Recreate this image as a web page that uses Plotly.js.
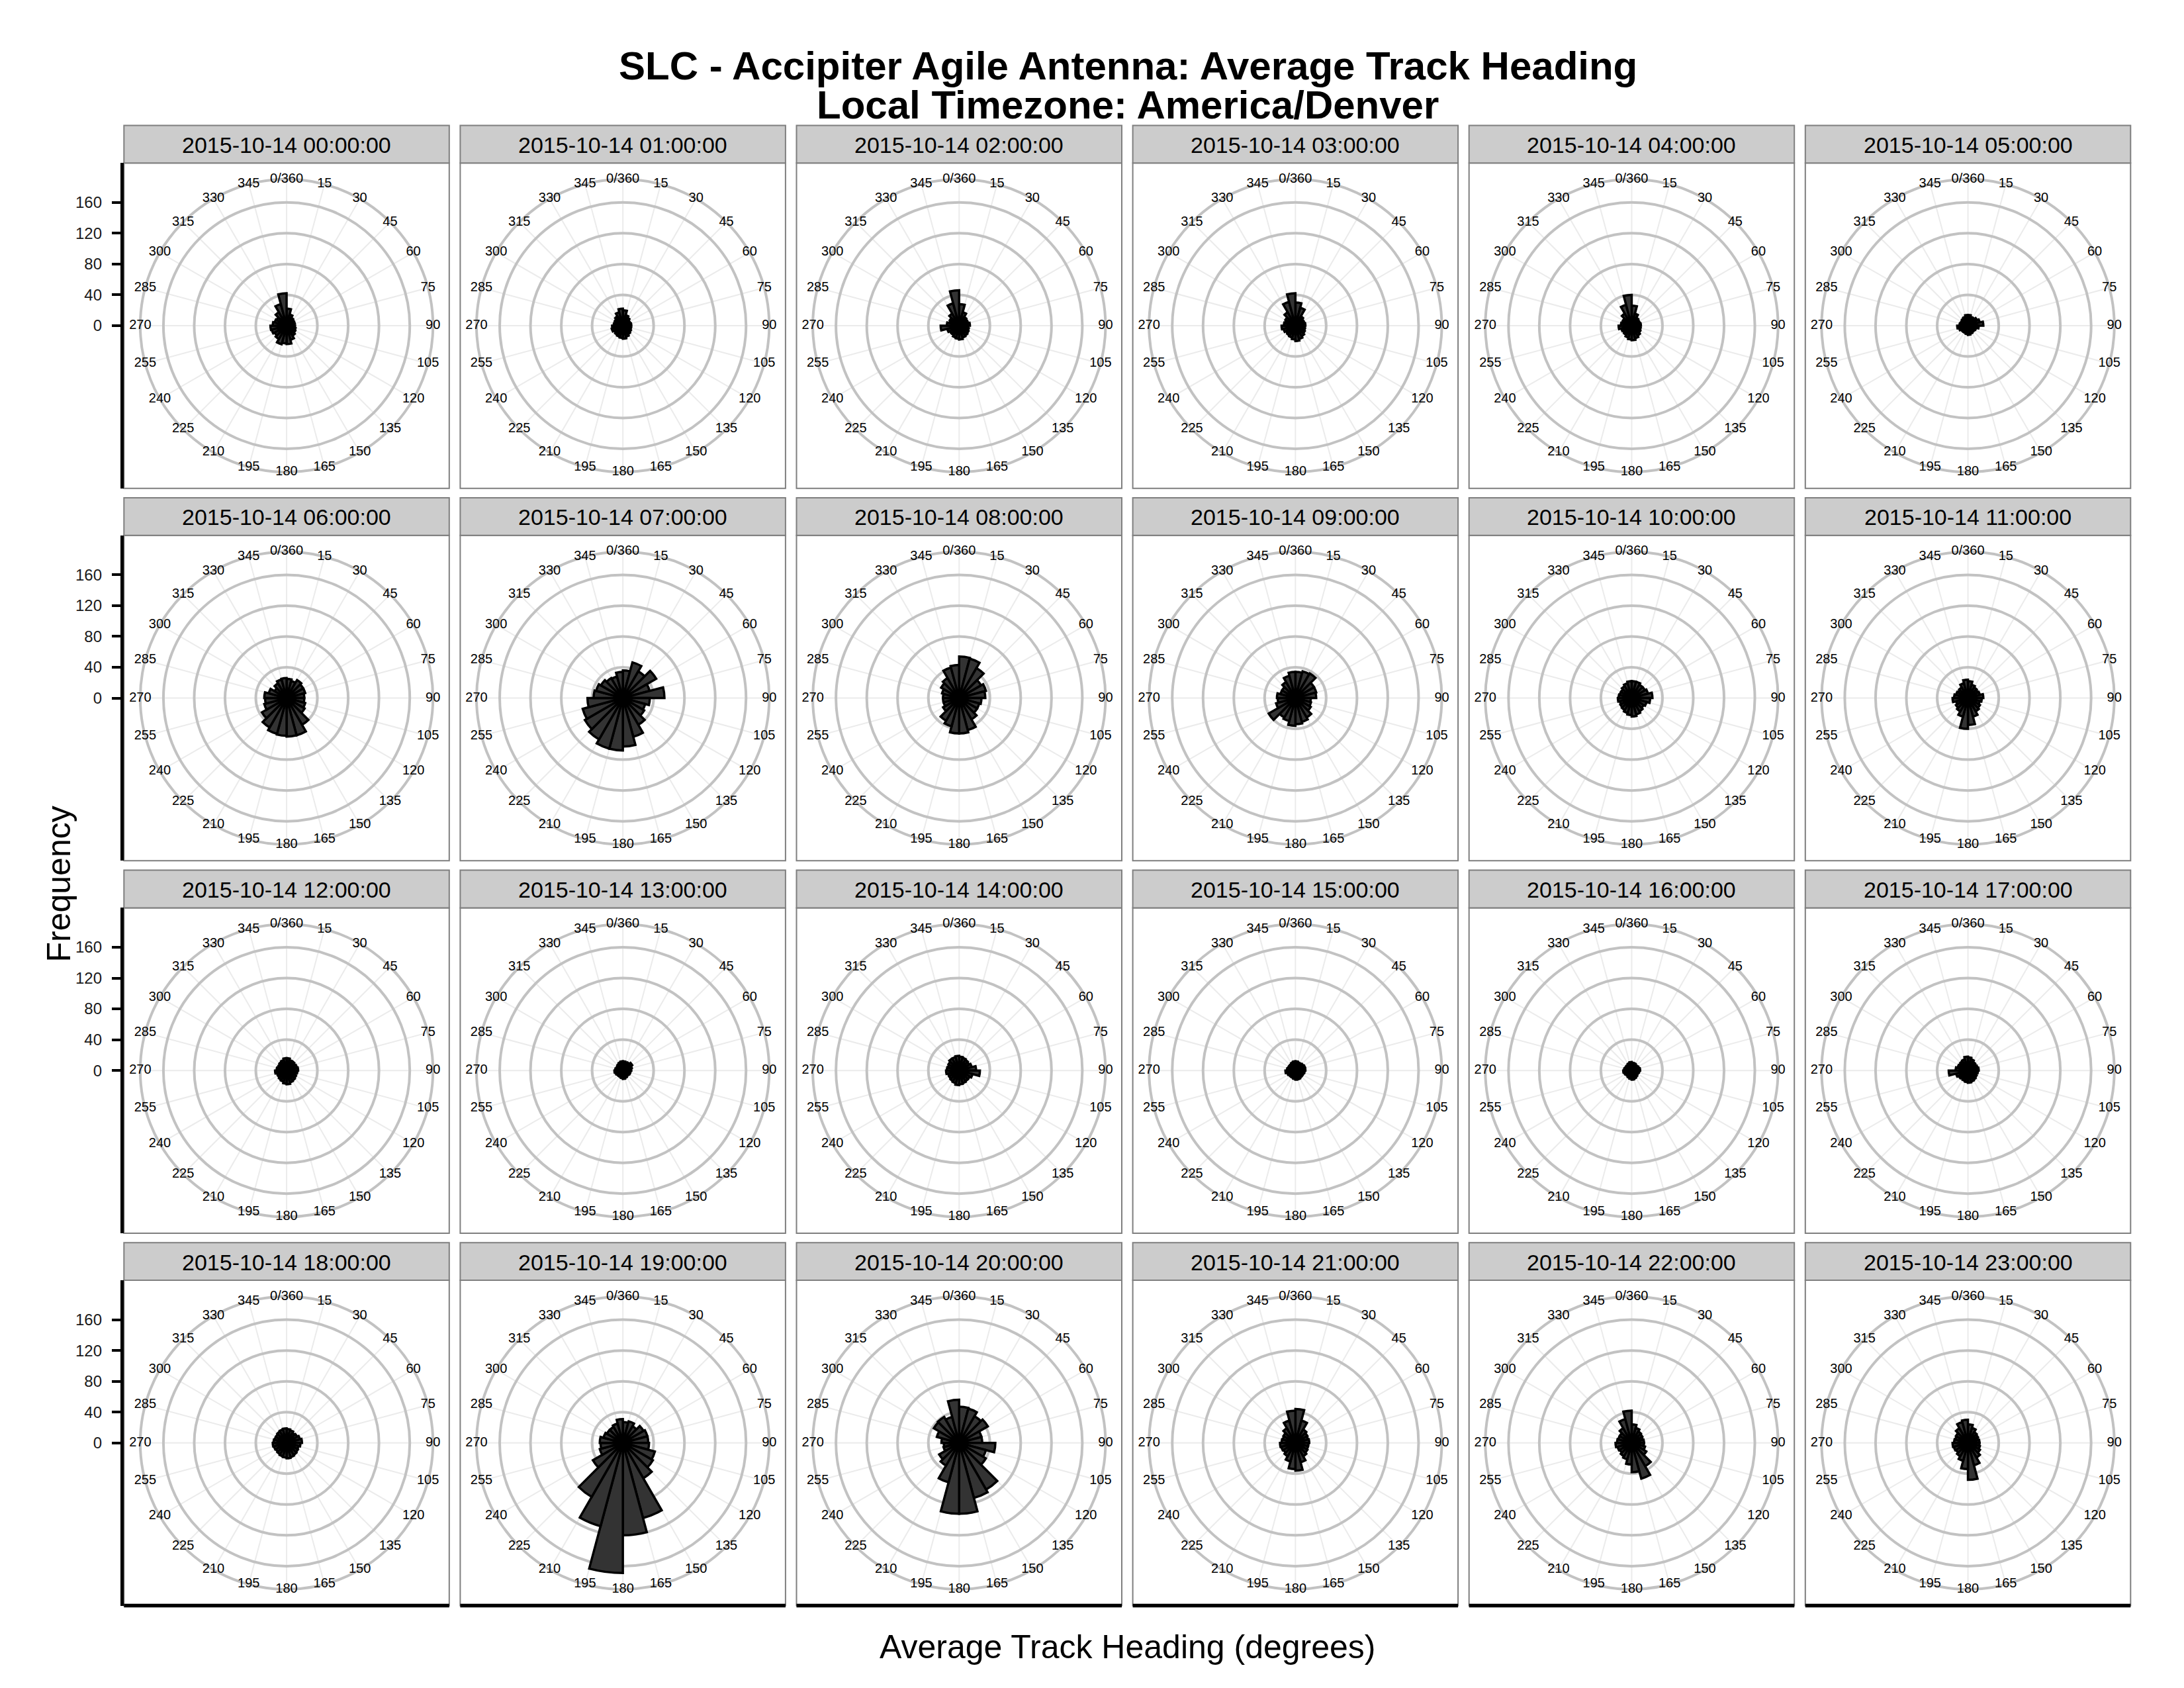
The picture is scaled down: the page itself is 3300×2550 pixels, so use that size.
<!DOCTYPE html>
<html><head><meta charset="utf-8">
<script src="https://cdn.plot.ly/plotly-3.0.1.min.js"></script>
<style>html,body{margin:0;padding:0;background:#fff}</style>
</head><body>
<div id="chart" style="width:3300px;height:2550px"></div>
<script>
// ---------------- data ----------------
const binCenters = [7.5, 22.5, 37.5, 52.5, 67.5, 82.5, 97.5, 112.5, 127.5, 142.5, 157.5, 172.5,
                    187.5, 202.5, 217.5, 232.5, 247.5, 262.5, 277.5, 292.5, 307.5, 322.5, 337.5, 352.5];
const binWidth = 15;
const thetaTicks = [0, 15, 30, 45, 60, 75, 90, 105, 120, 135, 150, 165, 180, 195, 210, 225, 240, 255, 270, 285, 300, 315, 330, 345];
const thetaLabels = ['0/360', '15', '30', '45', '60', '75', '90', '105', '120', '135', '150', '165', '180', '195', '210', '225', '240', '255', '270', '285', '300', '315', '330', '345'];
const freqTicks = [0, 40, 80, 120, 160];
const freqMax = 169;
const hourLabels = ['2015-10-14 00:00:00', '2015-10-14 01:00:00', '2015-10-14 02:00:00', '2015-10-14 03:00:00',
  '2015-10-14 04:00:00', '2015-10-14 05:00:00', '2015-10-14 06:00:00', '2015-10-14 07:00:00',
  '2015-10-14 08:00:00', '2015-10-14 09:00:00', '2015-10-14 10:00:00', '2015-10-14 11:00:00',
  '2015-10-14 12:00:00', '2015-10-14 13:00:00', '2015-10-14 14:00:00', '2015-10-14 15:00:00',
  '2015-10-14 16:00:00', '2015-10-14 17:00:00', '2015-10-14 18:00:00', '2015-10-14 19:00:00',
  '2015-10-14 20:00:00', '2015-10-14 21:00:00', '2015-10-14 22:00:00', '2015-10-14 23:00:00'];

const h00 = [22, 15, 12, 11, 11, 10, 11, 12, 13, 15, 19, 24, 23, 25, 20, 18, 20, 21, 18, 16, 15, 20, 29, 42];
const h01 = [20, 14, 12, 10, 10, 11, 10, 11, 12, 13, 15, 17, 16, 15, 14, 13, 15, 14, 12, 11, 12, 14, 18, 22];
const h02 = [28, 18, 13, 12, 12, 14, 12, 13, 14, 15, 16, 18, 17, 16, 14, 14, 16, 24, 16, 13, 14, 18, 30, 46];
const h03 = [30, 24, 14, 12, 12, 13, 12, 13, 14, 16, 18, 20, 18, 16, 15, 14, 16, 18, 15, 14, 15, 20, 32, 42];
const h04 = [26, 16, 12, 11, 11, 12, 11, 12, 13, 15, 17, 19, 18, 16, 14, 13, 14, 17, 14, 13, 13, 18, 28, 40];
const h05 = [14, 12, 12, 14, 16, 20, 14, 11, 10, 10, 11, 12, 11, 10, 10, 10, 12, 14, 11, 10, 10, 11, 12, 14];
const h06 = [25, 23, 27, 25, 25, 23, 23, 25, 27, 40, 50, 50, 49, 48, 44, 37, 30, 28, 29, 24, 18, 22, 25, 26];
const h07 = [36, 48, 40, 50, 36, 54, 35, 30, 32, 40, 52, 63, 68, 68, 62, 57, 54, 46, 38, 36, 33, 30, 29, 34];
const h08 = [54, 53, 45, 33, 36, 34, 29, 27, 27, 32, 43, 46, 46, 38, 34, 24, 21, 21, 21, 23, 27, 30, 41, 43];
const h09 = [34, 36, 37, 28, 28, 27, 20, 21, 23, 29, 32, 34, 36, 31, 29, 40, 26, 23, 24, 20, 20, 24, 30, 34];
const h10 = [22, 22, 20, 20, 22, 27, 24, 20, 18, 20, 22, 24, 22, 20, 18, 17, 16, 18, 17, 16, 16, 18, 20, 22];
const h11 = [22, 18, 16, 15, 16, 20, 18, 16, 18, 20, 25, 35, 40, 25, 20, 18, 16, 20, 18, 16, 15, 16, 20, 24];
const h12 = [16, 14, 14, 13, 14, 15, 14, 13, 14, 15, 16, 18, 17, 15, 14, 13, 13, 15, 13, 12, 12, 13, 14, 16];
const h13 = [12, 11, 12, 14, 12, 11, 10, 10, 9, 9, 10, 11, 10, 9, 9, 9, 10, 11, 10, 9, 9, 10, 11, 12];
const h14 = [18, 17, 16, 15, 17, 22, 27, 18, 16, 16, 17, 18, 19, 17, 16, 15, 15, 17, 16, 15, 16, 18, 18, 19];
const h15 = [12, 11, 11, 12, 13, 13, 12, 11, 11, 11, 12, 12, 11, 10, 10, 10, 11, 13, 11, 10, 10, 10, 11, 12];
const h16 = [10, 10, 9, 9, 10, 11, 10, 9, 9, 10, 11, 12, 11, 10, 9, 9, 10, 11, 10, 9, 9, 9, 10, 11];
const h17 = [17, 15, 13, 12, 13, 14, 13, 12, 13, 14, 15, 16, 15, 14, 13, 14, 16, 25, 16, 14, 13, 14, 15, 18];
const h18 = [18, 17, 15, 16, 18, 20, 18, 16, 17, 18, 19, 20, 19, 18, 17, 16, 17, 18, 17, 16, 16, 17, 18, 19];
const h19 = [27, 29, 25, 31, 33, 33, 34, 43, 45, 53, 101, 120, 169, 112, 81, 45, 31, 29, 30, 26, 24, 24, 26, 31];
const h20 = [47, 46, 40, 43, 30, 30, 47, 36, 40, 70, 74, 92, 92, 53, 34, 30, 21, 20, 23, 30, 38, 39, 35, 56];
const h21 = [44, 30, 20, 18, 17, 18, 17, 17, 18, 20, 26, 36, 34, 25, 20, 18, 19, 20, 18, 17, 18, 22, 30, 42];
const h22 = [24, 20, 17, 16, 15, 16, 16, 18, 22, 35, 48, 38, 28, 22, 20, 18, 19, 21, 19, 18, 18, 22, 32, 42];
const h23 = [24, 20, 16, 15, 14, 15, 15, 16, 18, 22, 30, 48, 34, 24, 20, 18, 19, 20, 18, 17, 18, 22, 28, 30];

const hourCounts = [h00, h01, h02, h03, h04, h05, h06, h07, h08, h09, h10, h11,
                    h12, h13, h14, h15, h16, h17, h18, h19, h20, h21, h22, h23];

// ---------------- layout geometry (pixels) ----------------
const W = 3300, H = 2550;
const colLeft0 = 187.3, colPitch = 508.1;
const panelTop0 = 246.2, rowPitch = 562.6;
const panelSize = 491.5, stripH = 56.8;
const outerR = 0.45 * panelSize;            // outer ring radius
const rOuterVal = freqMax * 0.45 / 0.4;     // radial value at outer ring
const pxPerUnit = outerR / rOuterVal;
const FONT = 'Liberation Sans, Arial, Helvetica, sans-serif';

const px = x => x / W;
const py = y => 1 - y / H;

const traces = [];
const layout = {
  width: W, height: H,
  margin: {l: 0, r: 0, t: 0, b: 0},
  paper_bgcolor: '#ffffff',
  plot_bgcolor: 'rgba(0,0,0,0)',
  showlegend: false,
  font: {family: FONT, color: '#000'},
  shapes: [],
  annotations: []
};

for (let k = 0; k < 24; k++) {
  const col = k % 6, row = Math.floor(k / 6);
  const left = colLeft0 + col * colPitch;
  const top = panelTop0 + row * rowPitch;
  const cx = left + panelSize / 2, cy = top + panelSize / 2;
  const pid = k === 0 ? 'polar' : 'polar' + (k + 1);

  layout.shapes.push({type: 'rect', xref: 'paper', yref: 'paper', layer: 'below',
    x0: px(left), x1: px(left + panelSize), y0: py(top + panelSize), y1: py(top),
    fillcolor: '#ffffff', line: {color: '#7f7f7f', width: 2}});
  layout.shapes.push({type: 'rect', xref: 'paper', yref: 'paper', layer: 'below',
    x0: px(left), x1: px(left + panelSize), y0: py(top), y1: py(top - stripH),
    fillcolor: '#cccccc', line: {color: '#7f7f7f', width: 2}});
  layout.annotations.push({xref: 'paper', yref: 'paper', x: px(cx), y: py(top - stripH / 2 + 1),
    text: hourLabels[k], showarrow: false, xanchor: 'center', yanchor: 'middle',
    font: {size: 34, color: '#000', family: FONT}});
  if (row === 3) {
    layout.shapes.push({type: 'line', xref: 'paper', yref: 'paper', layer: 'above',
      x0: px(left), x1: px(left + panelSize), y0: py(top + panelSize), y1: py(top + panelSize),
      line: {color: '#000', width: 5.5}});
  }

  layout[pid] = {
    domain: {x: [px(cx - outerR), px(cx + outerR)], y: [py(cy + outerR), py(cy - outerR)]},
    bgcolor: 'rgba(0,0,0,0)',
    radialaxis: {range: [0, rOuterVal], tickmode: 'array', tickvals: [40, 80, 120, 160],
      showticklabels: false, ticks: '', showline: false,
      gridcolor: '#c2c2c2', gridwidth: 4, layer: 'below traces'},
    angularaxis: {rotation: 90, direction: 'clockwise', tickmode: 'array', tickvals: thetaTicks,
      showticklabels: false, ticks: '', showline: true, linecolor: '#c2c2c2', linewidth: 4,
      gridcolor: '#ebebeb', gridwidth: 2, layer: 'below traces'}
  };

  traces.push({type: 'barpolar', subplot: pid, r: hourCounts[k], theta: binCenters, width: binWidth,
    marker: {color: '#333333', line: {color: '#000000', width: 3.5}}, hoverinfo: 'r+theta'});
  traces.push({type: 'scatterpolar', subplot: pid, mode: 'text', cliponaxis: false,
    r: thetaTicks.map(() => rOuterVal), theta: thetaTicks, text: thetaLabels,
    textposition: 'middle center', textfont: {size: 20, color: '#000', family: FONT}, hoverinfo: 'skip'});
}

for (let row = 0; row < 4; row++) {
  const top = panelTop0 + row * rowPitch;
  const xid = row === 0 ? 'x' : 'x' + (row + 1);
  const yid = row === 0 ? 'y' : 'y' + (row + 1);
  const xk = row === 0 ? 'xaxis' : 'xaxis' + (row + 1);
  const yk = row === 0 ? 'yaxis' : 'yaxis' + (row + 1);
  const half = (panelSize / 2) / pxPerUnit;
  layout[xk] = {domain: [px(colLeft0), px(colLeft0 + panelSize)], anchor: yid, visible: false, range: [0, 1]};
  layout[yk] = {domain: [py(top + panelSize), py(top)], anchor: xid, range: [-half, half],
    tickmode: 'array', tickvals: freqTicks, ticks: 'outside', ticklen: 13, tickwidth: 4, tickcolor: '#000',
    showline: true, linecolor: '#000', linewidth: 5.5, showgrid: false, zeroline: false,
    ticklabelstandoff: 10, tickfont: {size: 24, color: '#1a1a1a', family: FONT}, fixedrange: true};
  traces.push({type: 'scatter', x: [], y: [], xaxis: xid, yaxis: yid, hoverinfo: 'skip'});
}

layout.annotations.push({xref: 'paper', yref: 'paper', x: px(1704), y: py(100), showarrow: false,
  xanchor: 'center', yanchor: 'middle', text: '<b>SLC - Accipiter Agile Antenna: Average Track Heading</b>',
  font: {size: 60, color: '#000', family: FONT}});
layout.annotations.push({xref: 'paper', yref: 'paper', x: px(1704), y: py(158), showarrow: false,
  xanchor: 'center', yanchor: 'middle', text: '<b>Local Timezone: America/Denver</b>',
  font: {size: 60, color: '#000', family: FONT}});
layout.annotations.push({xref: 'paper', yref: 'paper', x: px(1703.5), y: py(2488), showarrow: false,
  xanchor: 'center', yanchor: 'middle', text: 'Average Track Heading (degrees)',
  font: {size: 50, color: '#000', family: FONT}});
layout.annotations.push({xref: 'paper', yref: 'paper', x: px(88), y: py(1335.5), showarrow: false,
  xanchor: 'center', yanchor: 'middle', textangle: -90, text: 'Frequency',
  font: {size: 50, color: '#000', family: FONT}});

Plotly.newPlot('chart', traces, layout, {displayModeBar: false, staticPlot: true});
</script>
</body></html>
